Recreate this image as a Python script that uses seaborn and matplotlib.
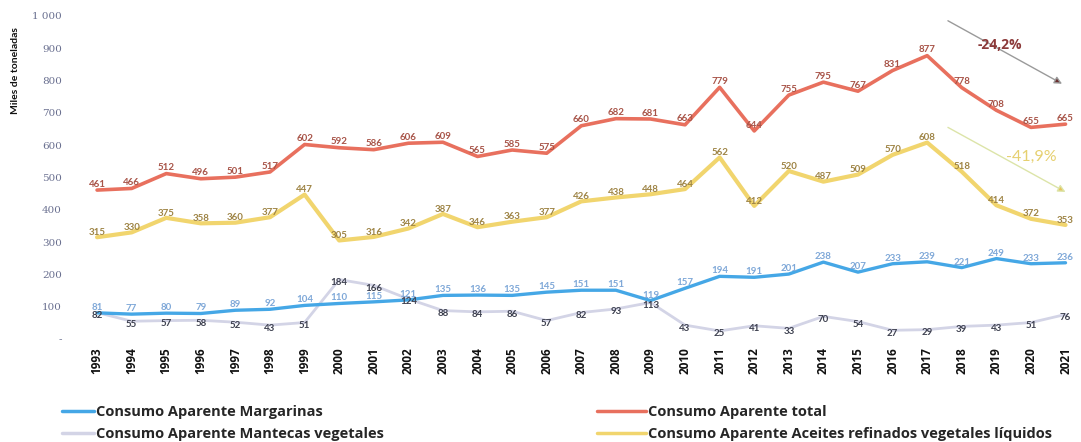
import pandas as pd
import numpy as np
import matplotlib.pyplot as plt
import seaborn as sns
from matplotlib.lines import Line2D

# ── Data (miles de toneladas) ─────────────────────────────
years = list(range(1993, 2022))
total = [461, 466, 512, 496, 501, 517, 602, 592, 586, 606, 609, 565, 585, 575, 660,
         682, 681, 663, 779, 644, 755, 795, 767, 831, 877, 778, 708, 655, 665]
aceites = [315, 330, 375, 358, 360, 377, 447, 305, 316, 342, 387, 346, 363, 377, 426,
           438, 448, 464, 562, 412, 520, 487, 509, 570, 608, 518, 414, 372, 353]
margarinas = [81, 77, 80, 79, 89, 92, 104, 110, 115, 121, 135, 136, 135, 145, 151,
              151, 119, 157, 194, 191, 201, 238, 207, 233, 239, 221, 249, 233, 236]
mantecas = [82, 55, 57, 58, 52, 43, 51, 184, 166, 124, 88, 84, 86, 57, 82,
            93, 113, 43, 25, 41, 33, 70, 54, 27, 29, 39, 43, 51, 76]

series_names = ['Consumo Aparente Margarinas', 'Consumo Aparente Mantecas vegetales',
                'Consumo Aparente total', 'Consumo Aparente Aceites refinados vegetales líquidos']
series_values = [margarinas, mantecas, total, aceites]
pct_labels = ['-24,2%', '-41,9%']

colors = {
    series_names[0]: '#45A7E6',
    series_names[1]: '#D3D4E6',
    series_names[2]: '#E8705E',
    series_names[3]: '#F1D56E',
}
label_colors = ['#7FA8D8', '#3E4150', '#A85448', '#9E8445']
label_offsets = [17, -9, 18, 15]
widths = [2.4, 2.0, 2.6, 3.0]

df = pd.concat([pd.DataFrame({'Año': years, 'Valor': v, 'Serie': n})
                for n, v in zip(series_names, series_values)], ignore_index=True)

# ── Plot ──────────────────────────────────────────────────
sns.set_style('white')
plt.rcParams['font.family'] = ['Lato', 'DejaVu Sans']

fig = plt.figure(figsize=(10.81, 4.42), dpi=100)
ax = fig.add_axes([0.061, 0.233, 0.933, 0.731])

# mantecas first so it sits behind
for name, lw in [(series_names[1], widths[1]), (series_names[3], widths[3]),
                 (series_names[0], widths[0]), (series_names[2], widths[2])]:
    sns.lineplot(data=df[df['Serie'] == name], x='Año', y='Valor', color=colors[name],
                 linewidth=lw, ax=ax, legend=False)

for vals, col, off in zip(series_values, label_colors, label_offsets):
    for x, v in zip(years, vals):
        ax.text(x, v + off, f'{v}', ha='center', va='center', fontsize=7,
                fontweight='bold', color=col, clip_on=False)

# trend arrows
ax.annotate('', xy=(2020.9, 790), xytext=(2017.6, 985),
            arrowprops=dict(arrowstyle='-|>', edgecolor='#9A9A9A', facecolor='#6B2E2E',
                            lw=1.0, mutation_scale=11, shrinkA=0, shrinkB=0))
ax.annotate('', xy=(2021.0, 455), xytext=(2017.6, 655),
            arrowprops=dict(arrowstyle='-|>', edgecolor='#DCE4A8', facecolor='#E8C45A',
                            lw=1.0, mutation_scale=11, shrinkA=0, shrinkB=0))
ax.text(2019.1, 910, pct_labels[0], ha='center', va='center', fontsize=10,
        fontweight='bold', color='#8C3A3A', family=['Open Sans', 'DejaVu Sans'])
ax.text(2020.0, 563, pct_labels[1], ha='center', va='center', fontsize=11.5,
        color='#E6D070')

ax.set_xlim(1992.1, 2021.26)
ax.set_ylim(0, 1000)
ax.set_xticks(years)
ax.set_xticklabels([str(y) for y in years], rotation=90, fontsize=8.5,
                   fontweight='bold', color='#111111', family=['Open Sans', 'DejaVu Sans'])
yt = list(range(0, 1001, 100))
ax.set_yticks(yt)
ax.set_yticklabels(['-'] + [f'{t}' if t < 1000 else '1 000' for t in yt[1:]],
                   fontsize=7.5, color='#6A7090', family=['DejaVu Serif'])
ax.tick_params(axis='y', length=0, pad=3)
ax.tick_params(axis='x', length=0, pad=6)
ax.set_xlabel('')
ax.set_ylabel('')
fig.text(0.014, 0.84, 'Miles de toneladas', rotation=90, ha='center', va='center',
         fontsize=7.5, fontweight='bold', color='#111111')
sns.despine(ax=ax, left=True, bottom=True)

# legend: two separate columns
leg_font = {'family': ['Open Sans', 'DejaVu Sans'], 'weight': 'bold', 'size': 10.5}
h1 = [Line2D([0], [0], color=colors[n], lw=2.5) for n in series_names[:2]]
h2 = [Line2D([0], [0], color=colors[n], lw=2.5) for n in series_names[2:]]
leg1 = fig.legend(h1, series_names[:2], loc='upper left', bbox_to_anchor=(0.057, 0.083),
                  frameon=False, handlelength=2.2, handletextpad=0.15, borderpad=0,
                  borderaxespad=0, labelspacing=0.5, prop=leg_font)
leg2 = fig.legend(h2, series_names[2:], loc='upper left', bbox_to_anchor=(0.552, 0.083),
                  frameon=False, handlelength=3.4, handletextpad=0.15, borderpad=0,
                  borderaxespad=0, labelspacing=0.5, prop=leg_font)

fig.savefig('out.png', dpi=100)
